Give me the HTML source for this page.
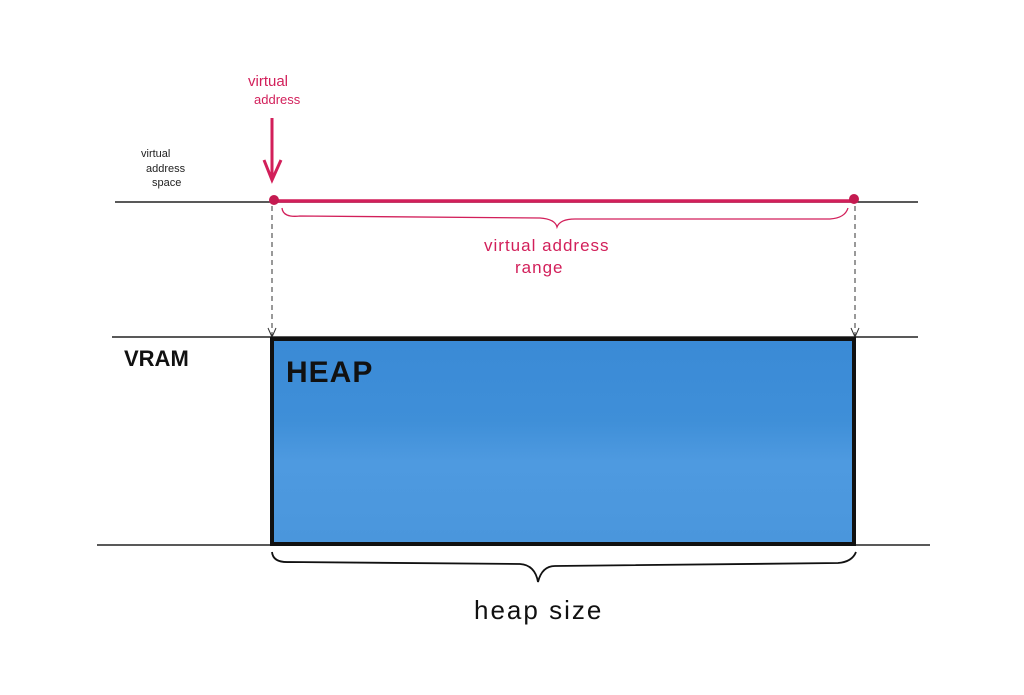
<!DOCTYPE html>
<html><head><meta charset="utf-8"><style>
html,body{margin:0;padding:0;background:#fff;width:1024px;height:695px;overflow:hidden}
</style></head><body>
<svg width="1024" height="695" viewBox="0 0 1024 695" xmlns="http://www.w3.org/2000/svg">
<defs>
<linearGradient id="g" x1="0" y1="0" x2="0" y2="1">
<stop offset="0" stop-color="#3a8ad6"/>
<stop offset="0.4" stop-color="#3f8fd8"/>
<stop offset="0.6" stop-color="#4e9ae0"/>
<stop offset="1" stop-color="#4a96dc"/>
</linearGradient>
</defs>
<line x1="115" y1="202" x2="918" y2="202" stroke="#222" stroke-width="1.5"/>
<line x1="275" y1="201" x2="854" y2="201" stroke="#d21f5a" stroke-width="3.5"/>
<circle cx="274" cy="200" r="5" fill="#c41a50"/>
<circle cx="854" cy="199" r="5" fill="#c41a50"/>
<path d="M282 208 Q283 218 300 216 L540 218 Q555 219 557 227 Q560 219 575 219 L830 219 Q845 218 848 208" fill="none" stroke="#d21f5a" stroke-width="1.3"/>
<text x="484" y="251" font-family="Liberation Sans, sans-serif" font-size="17" fill="#d21f5a" letter-spacing="1">virtual address</text>
<text x="515" y="273" font-family="Liberation Sans, sans-serif" font-size="17" fill="#d21f5a" letter-spacing="1">range</text>
<line x1="272" y1="118" x2="272" y2="178" stroke="#d21f5a" stroke-width="3"/>
<path d="M264 160 L272 180 L281 160" fill="none" stroke="#d21f5a" stroke-width="3"/>
<text x="248" y="86" font-family="Liberation Sans, sans-serif" font-size="15" fill="#d21f5a">virtual</text>
<text x="254" y="104" font-family="Liberation Sans, sans-serif" font-size="13" fill="#d21f5a">address</text>
<text x="141" y="157" font-family="Liberation Sans, sans-serif" font-size="11" fill="#222">virtual</text>
<text x="146" y="172" font-family="Liberation Sans, sans-serif" font-size="11" fill="#222">address</text>
<text x="152" y="186" font-family="Liberation Sans, sans-serif" font-size="11" fill="#222">space</text>
<line x1="272" y1="206" x2="272" y2="336" stroke="#333" stroke-width="1" stroke-dasharray="5,4"/>
<line x1="855" y1="206" x2="855" y2="336" stroke="#333" stroke-width="1" stroke-dasharray="5,4"/>
<path d="M268 328 L272 337 L276 328 M851 328 L855 337 L859 328" fill="none" stroke="#333" stroke-width="1"/>
<line x1="112" y1="337" x2="918" y2="337" stroke="#222" stroke-width="1.5"/>
<line x1="97" y1="545" x2="930" y2="545" stroke="#222" stroke-width="1.5"/>
<text x="124" y="366" font-family="Liberation Sans, sans-serif" font-size="22" font-weight="bold" fill="#111">VRAM</text>
<rect x="272" y="339" width="582" height="205" fill="url(#g)" stroke="#111" stroke-width="4"/>
<text x="286" y="382" font-family="Liberation Sans, sans-serif" font-size="30" font-weight="bold" fill="#111" letter-spacing="1">HEAP</text>
<path d="M272 552 Q273 563 290 562 L520 564 Q535 565 538 582 Q542 566 555 566 L838 563 Q852 562 856 552" fill="none" stroke="#111" stroke-width="1.8"/>
<text x="474" y="619" font-family="Liberation Sans, sans-serif" font-size="26" fill="#111" letter-spacing="2">heap size</text>
</svg>
</body></html>
